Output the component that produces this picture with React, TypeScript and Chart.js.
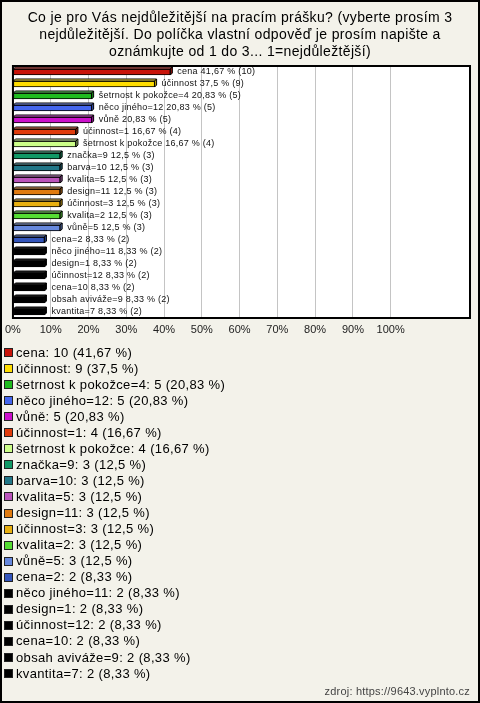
import { useEffect, useRef } from "react";
import { Chart, registerables } from "chart.js";

Chart.register(...registerables);

const titleLines = [
  "Co je pro Vás nejdůležitější na pracím prášku? (vyberte prosím 3",
  "nejdůležitější. Do políčka vlastní odpověď je prosím napište a",
  "oznámkujte od 1 do 3... 1=nejdůležtější)",
];

const categories = [
  "cena",
  "účinnost",
  "šetrnost k pokožce=4",
  "něco jiného=12",
  "vůně",
  "účinnost=1",
  "šetrnost k pokožce",
  "značka=9",
  "barva=10",
  "kvalita=5",
  "design=11",
  "účinnost=3",
  "kvalita=2",
  "vůně=5",
  "cena=2",
  "něco jiného=11",
  "design=1",
  "účinnost=12",
  "cena=10",
  "obsah aviváže=9",
  "kvantita=7",
];

const counts = [10, 9, 5, 5, 5, 4, 4, 3, 3, 3, 3, 3, 3, 3, 2, 2, 2, 2, 2, 2, 2];

const percents = [
  41.67, 37.5, 20.83, 20.83, 20.83, 16.67, 16.67, 12.5, 12.5, 12.5, 12.5, 12.5,
  12.5, 12.5, 8.33, 8.33, 8.33, 8.33, 8.33, 8.33, 8.33,
];

const colors = [
  "#c8140a",
  "#ffdd00",
  "#1fbb1f",
  "#4466ee",
  "#cc11cc",
  "#e03c0c",
  "#ccff88",
  "#119966",
  "#227788",
  "#bb55bb",
  "#e07b10",
  "#e8b010",
  "#55dd33",
  "#6688dd",
  "#3355bb",
  "#000000",
  "#000000",
  "#000000",
  "#000000",
  "#000000",
  "#000000",
];

const tickValues = [0, 10, 20, 30, 40, 50, 60, 70, 80, 90, 100];

const sourceText = "zdroj: https://9643.vyplnto.cz";

const BG = "#f3f2ea";
const FONT = '"Liberation Sans", Arial, sans-serif';

function fmt(v: number) {
  return String(v).replace(".", ",");
}

function shade(hex: string, f: number) {
  const n = parseInt(hex.slice(1), 16);
  let r = (n >> 16) & 255,
    g = (n >> 8) & 255,
    b = n & 255;
  if (f >= 0) {
    r = Math.round(r + (255 - r) * f);
    g = Math.round(g + (255 - g) * f);
    b = Math.round(b + (255 - b) * f);
  } else {
    r = Math.round(r * (1 + f));
    g = Math.round(g * (1 + f));
    b = Math.round(b * (1 + f));
  }
  return `rgb(${r},${g},${b})`;
}

const decorPlugin = {
  id: "decor",
  beforeDraw(chart: any) {
    const { ctx, width, height, chartArea } = chart;
    ctx.save();
    ctx.fillStyle = BG;
    ctx.fillRect(0, 0, width, height);
    ctx.fillStyle = "#ffffff";
    ctx.fillRect(
      chartArea.left,
      chartArea.top,
      chartArea.right - chartArea.left,
      chartArea.bottom - chartArea.top
    );
    ctx.restore();
  },
  afterDatasetsDraw(chart: any) {
    const { ctx } = chart;
    const meta = chart.getDatasetMeta(0);
    const d = 2;
    ctx.save();
    meta.data.forEach((el: any, i: number) => {
      const { x, y, base, height } = el.getProps(["x", "y", "base", "height"], true);
      const top = y - height / 2;
      const bottom = y + height / 2;
      ctx.lineWidth = 1;
      ctx.strokeStyle = "#000";
      // top face
      ctx.beginPath();
      ctx.moveTo(base, top);
      ctx.lineTo(base + d, top - d);
      ctx.lineTo(x + d, top - d);
      ctx.lineTo(x, top);
      ctx.closePath();
      ctx.fillStyle = shade(colors[i], colors[i] === "#000000" ? 0.15 : 0.35);
      ctx.fill();
      ctx.stroke();
      // right face
      ctx.beginPath();
      ctx.moveTo(x, top);
      ctx.lineTo(x + d, top - d);
      ctx.lineTo(x + d, bottom - d);
      ctx.lineTo(x, bottom);
      ctx.closePath();
      ctx.fillStyle = shade(colors[i], -0.25);
      ctx.fill();
      ctx.stroke();
      // label
      ctx.fillStyle = "#111";
      ctx.font = `9px ${FONT}`;
      (ctx as any).letterSpacing = "0.25px";
      ctx.textAlign = "left";
      ctx.textBaseline = "middle";
      ctx.fillText(
        `${categories[i]} ${fmt(percents[i])} % (${counts[i]})`,
        x + d + 5,
        y
      );
      (ctx as any).letterSpacing = "0px";
    });
    ctx.restore();
  },
  afterDraw(chart: any) {
    const { ctx, width, height, chartArea } = chart;
    ctx.save();
    // plot border
    ctx.strokeStyle = "#000";
    ctx.lineWidth = 2;
    ctx.strokeRect(
      chartArea.left,
      chartArea.top,
      chartArea.right - chartArea.left,
      chartArea.bottom - chartArea.top
    );
    // outer border
    ctx.strokeRect(1, 1, width - 2, height - 2);

    // title
    ctx.fillStyle = "#000";
    ctx.font = `14px ${FONT}`;
    (ctx as any).letterSpacing = "0.35px";
    ctx.textAlign = "center";
    ctx.textBaseline = "middle";
    titleLines.forEach((t, i) => {
      ctx.fillText(t, width / 2, 18 + i * 17);
    });

    // legend
    ctx.font = `13px ${FONT}`;
    (ctx as any).letterSpacing = "0.35px";
    ctx.textAlign = "left";
    categories.forEach((c, i) => {
      const cy = 353 + i * 16.05;
      ctx.fillStyle = colors[i];
      ctx.fillRect(4.5, Math.round(cy) - 4.5, 8, 8);
      ctx.strokeStyle = "#222";
      ctx.lineWidth = 1;
      ctx.strokeRect(4.5, Math.round(cy) - 4.5, 8, 8);
      ctx.fillStyle = "#000";
      ctx.fillText(`${c}: ${counts[i]} (${fmt(percents[i])} %)`, 16, cy);
    });

    // footer
    ctx.font = `11px ${FONT}`;
    (ctx as any).letterSpacing = "0.2px";
    ctx.fillStyle = "#444";
    ctx.textAlign = "right";
    ctx.fillText(sourceText, 470, 692);
    (ctx as any).letterSpacing = "0px";
    ctx.restore();
  },
};

export default function App() {
  const ref = useRef<HTMLCanvasElement | null>(null);

  useEffect(() => {
    document.body.style.margin = "0";
    if (!ref.current) return;
    const chart = new Chart(ref.current, {
      type: "bar",
      data: {
        labels: categories,
        datasets: [
          {
            data: percents,
            backgroundColor: colors,
            borderColor: "#000",
            borderWidth: 1,
            borderSkipped: false,
            barThickness: 6,
          },
        ],
      },
      options: {
        indexAxis: "y",
        responsive: false,
        animation: false,
        devicePixelRatio: 1,
        layout: { padding: { left: 10, top: 66, right: 10, bottom: 355 } },
        plugins: {
          legend: { display: false },
          tooltip: { enabled: false },
          title: { display: false },
        },
        scales: {
          x: {
            min: 0,
            max: 121,
            position: "bottom",
            border: { display: false },
            grid: { color: "#c4c4c4", drawTicks: false, lineWidth: 1 },
            afterBuildTicks: (scale: any) => {
              scale.ticks = tickValues.map((v) => ({ value: v }));
            },
            afterFit: (scale: any) => {
              scale.height = 30;
            },
            ticks: {
              padding: 5,
              color: "#222",
              font: { size: 11, family: FONT },
              maxRotation: 0,
              autoSkip: false,
              callback: (v: any) => `${v}%`,
            },
          },
          y: {
            display: false,
          },
        },
      },
      plugins: [decorPlugin],
    } as any);
    return () => chart.destroy();
  }, []);

  return (
    <div style={{ width: 480, height: 703 }}>
      <canvas ref={ref} width={480} height={703} style={{ display: "block" }} />
    </div>
  );
}
